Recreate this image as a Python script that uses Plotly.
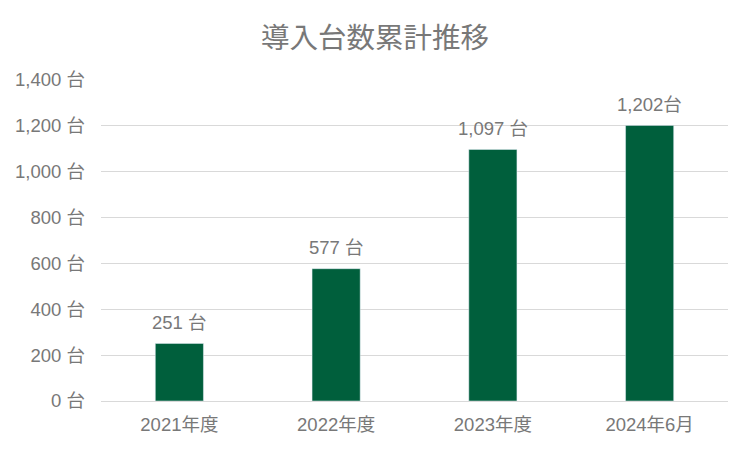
import plotly.graph_objects as go

categories = ["2021年度", "2022年度", "2023年度", "2024年6月"]
values = [251, 577, 1097, 1202]
value_labels = ["251 台", "577 台", "1,097 台", "1,202台"]
tick_vals = [0, 200, 400, 600, 800, 1000, 1200, 1400]
tick_text = ["0 台", "200 台", "400 台", "600 台", "800 台", "1,000 台", "1,200 台", "1,400 台"]

FONT = "Liberation Sans, Arial, Noto Sans CJK JP, sans-serif"
GRAY = "#787878"
FS = 18.5

fig = go.Figure(go.Bar(
    x=categories, y=values,
    marker=dict(color="#005F3C"), width=0.307,
    hoverinfo="skip",
))
for c, v, t in zip(categories, values, value_labels):
    fig.add_annotation(x=c, y=v, text=t, showarrow=False, yanchor="middle", yshift=21,
                       font=dict(size=FS, color=GRAY, family=FONT))
fig.update_layout(
    width=742, height=442,
    margin=dict(l=93, r=22, t=72, b=49, autoexpand=False),
    paper_bgcolor="white", plot_bgcolor="white",
    title=dict(text="導入台数累計推移", x=0.4946, xanchor="center", y=0.932, yanchor="middle",
               font=dict(size=28.5, color=GRAY, family=FONT)),
    font=dict(family=FONT, color=GRAY, size=FS),
    showlegend=False,
    xaxis=dict(showgrid=False, showline=False, ticks="", automargin=False,
               ticklabelstandoff=10, tickfont=dict(size=FS, color=GRAY)),
    yaxis=dict(range=[0, 1400], tickvals=tick_vals, ticktext=tick_text, showgrid=True,
               gridcolor="#d9d9d9", gridwidth=1, zeroline=True, zerolinecolor="#d9d9d9",
               zerolinewidth=1, showline=False, ticks="", ticklabelstandoff=15, automargin=False,
               tickfont=dict(size=FS, color=GRAY)),
)
fig.write_html("out.html")
